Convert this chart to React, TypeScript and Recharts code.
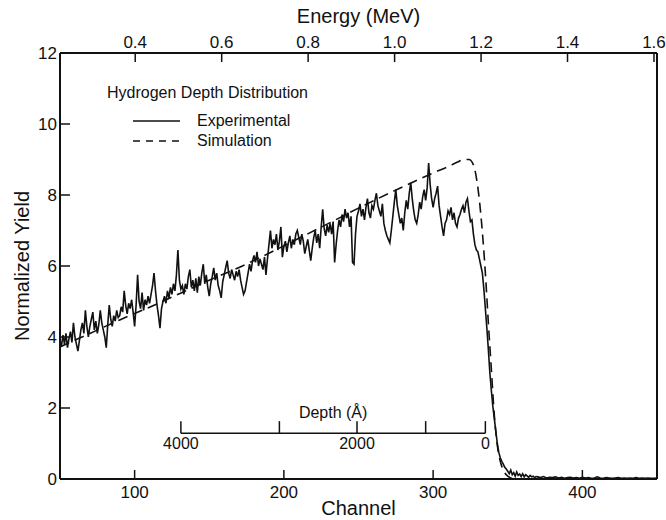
import { LineChart, Line, XAxis, YAxis, ReferenceLine, Legend } from "recharts";

const FONT = '"Liberation Sans", Arial, Helvetica, sans-serif';
const INK = "#111";

// experimental yield, one value per channel
const yieldCh050to149 = [
  3.9, 3.75, 4.05, 3.8, 4.1, 3.7, 3.95, 4.15, 3.85, 4.4,
  4.0, 3.8, 3.6, 3.9, 4.2, 4.4, 4.1, 4.75, 4.3, 4.0,
  4.3, 4.5, 4.7, 4.2, 4.45, 4.1, 4.35, 4.75, 4.4, 4.2,
  4.0, 3.7, 4.35, 4.9, 4.5, 4.3, 4.6, 4.45, 4.75, 4.55,
  4.6, 4.85, 4.7, 5.3, 4.9, 4.65, 4.95, 4.8, 5.05, 4.7,
  4.3, 4.9, 5.75, 5.0, 4.8, 5.25, 4.75, 5.05, 4.9, 5.15,
  4.95, 5.2, 5.45, 5.8, 5.3, 4.9, 4.6, 4.25, 4.8, 5.0,
  5.15, 4.95, 5.3, 5.1, 5.4, 5.2, 5.5, 5.3, 5.75, 6.45,
  5.6, 5.35, 5.45, 5.2, 5.5, 5.35, 5.7, 5.9, 5.4, 5.6,
  5.3, 5.65, 5.25, 5.7, 5.45, 5.8, 6.05, 5.5, 5.75, 5.4,
];
const yieldCh150to249 = [
  5.15, 5.5, 5.7, 5.95, 5.6, 5.8, 5.45, 5.3, 5.1, 5.55,
  5.75, 5.95, 6.15, 5.8, 5.65, 5.9, 5.75, 5.6, 5.85, 5.7,
  5.9, 5.6, 5.4, 5.2, 5.3, 5.55, 5.8, 6.05, 5.85, 6.15,
  6.3, 6.1, 6.4, 6.0, 6.2, 6.05, 5.9, 6.25, 5.75, 6.2,
  6.6, 7.0, 6.5, 6.75, 6.6, 6.9, 6.45, 6.7, 7.1, 6.25,
  6.55, 6.7, 6.4, 6.65, 6.85, 6.5, 6.75, 6.6, 6.9, 7.0,
  6.8, 6.6, 6.9, 6.7, 6.35, 6.55, 6.75, 6.45, 6.15, 6.5,
  6.8, 7.0, 6.65, 6.9, 6.5, 7.1, 7.6, 7.05, 6.85, 7.15,
  6.95, 7.2, 6.9, 7.25, 6.1, 6.6, 7.0, 7.3, 7.1, 7.45,
  7.25, 7.6, 7.35, 7.5, 7.1, 7.4, 6.1, 6.05, 6.9, 7.4,
];
const yieldCh250to349 = [
  7.55, 7.75, 7.4, 7.6, 7.3, 7.65, 7.9, 7.5, 7.35, 7.7,
  7.6, 7.85, 8.05, 7.7, 7.55, 7.4, 7.75, 7.2, 7.0, 6.85,
  6.75, 6.65, 7.0, 7.4, 7.8, 8.15, 7.7, 7.45, 7.2, 7.35,
  7.0, 7.5, 7.85, 7.6, 8.05, 8.35, 7.9, 7.55, 7.3, 7.2,
  7.45, 7.8, 7.6, 7.95, 8.15, 7.85, 8.2, 8.9, 8.3, 7.9,
  7.65, 7.9, 8.05, 8.25, 7.7, 7.4, 7.1, 6.85, 7.2, 7.3,
  7.55, 7.45, 7.65, 7.3, 7.5, 7.2, 7.1, 7.35, 7.45, 7.6,
  7.7, 7.5, 7.8, 7.9, 7.55, 7.25, 7.3, 6.9, 6.6, 6.45,
  6.4, 6.2, 6.0, 5.8, 5.35, 4.8, 4.25, 3.65, 3.0, 2.5,
  2.05, 1.7, 1.35, 1.0, 0.75, 0.6, 0.5, 0.42, 0.33, 0.28,
];
const yieldCh350to369 = [
  0.22, 0.15, 0.25, 0.12, 0.18, 0.08, 0.2, 0.1, 0.14, 0.07,
  0.15, 0.06, 0.12, 0.09, 0.05, 0.1, 0.06, 0.08, 0.04, 0.07,
];
// every second channel, 370..450
const yieldCh370to450 = [
  0.06, 0.04, 0.07, 0.03, 0.05, 0.04, 0.06, 0.03, 0.05, 0.02,
  0.04, 0.05, 0.03, 0.04, 0.02, 0.05, 0.03, 0.04, 0.02, 0.03,
  0.06, 0.03, 0.02, 0.04, 0.03, 0.02, 0.03, 0.04, 0.02, 0.03,
  0.02, 0.03, 0.02, 0.04, 0.02, 0.03, 0.02, 0.03, 0.02, 0.02,
  0.03,
];

const simChannels = [50, 70, 90, 110, 130, 150, 170, 190, 210, 230, 250, 270, 290, 300, 310, 316, 320, 324, 327, 330, 332.5, 335, 337, 339, 341, 343, 345, 347, 350, 355, 450];
const simYield = [3.72, 4.1, 4.48, 4.84, 5.22, 5.6, 5.96, 6.36, 6.78, 7.2, 7.63, 8.04, 8.43, 8.62, 8.8, 8.92, 8.99, 9.0, 8.85, 8.2, 7.2, 5.8, 4.4, 3.1, 1.8, 0.95, 0.5, 0.25, 0.08, 0.0, 0.0];

const channelTicks = [100, 200, 300, 400];
const yieldTicks = [0, 2, 4, 6, 8, 10, 12];
const energyTicks = [0.4, 0.6, 0.8, 1.0, 1.2, 1.4, 1.6];

// depth scale inset (non linear in channel)
const depthValues = [4000, 3000, 2000, 1000, 0];
const depthChannels = [131, 197, 249, 295, 335];
const depthLabels = ["4000", "", "2000", "", "0"];
const DEPTH_Y = 1.29;
const DEPTH_TICK = 0.34;

const toPoints = (start: number, step: number, ys: number[]) => ys.map((y, i) => ({ ch: start + i * step, y }));

const expData = [
  ...toPoints(50, 1, yieldCh050to149),
  ...toPoints(150, 1, yieldCh150to249),
  ...toPoints(250, 1, yieldCh250to349),
  ...toPoints(350, 1, yieldCh350to369),
  ...toPoints(370, 2, yieldCh370to450),
];
const simData = simChannels.map((ch, i) => ({ ch, y: simYield[i] }));
// empty series so the energy axis gets drawn
const energyData = energyTicks.map((e) => ({ e, y: null }));

function LeftTick({ x, y, payload }: any) {
  return (
    <g>
      <line x1={x} y1={y} x2={x + 10} y2={y} stroke={INK} strokeWidth={1.5} />
      <text x={x - 3} y={y + 6} textAnchor="end" fontSize={17} fill={INK}>{payload.value}</text>
    </g>
  );
}

function RightTick({ x, y }: any) {
  return <line x1={x} y1={y} x2={x - 9} y2={y} stroke={INK} strokeWidth={1.5} />;
}

function BottomTick({ x, y, payload }: any) {
  return (
    <g>
      <line x1={x} y1={y} x2={x} y2={y - 9} stroke={INK} strokeWidth={1.5} />
      <text x={x} y={y + 19} textAnchor="middle" fontSize={17} fill={INK}>{payload.value}</text>
    </g>
  );
}

function TopTick({ x, y, payload }: any) {
  return (
    <g>
      <line x1={x} y1={y} x2={x} y2={y + 9} stroke={INK} strokeWidth={1.5} />
      <text x={x} y={y - 5} textAnchor="middle" fontSize={17} fill={INK}>{Number(payload.value).toFixed(1)}</text>
    </g>
  );
}

function LegendBox({ payload }: any) {
  const items = (payload || []).filter((p: any) => p.type !== "none");
  return (
    <svg width={240} height={72} style={{ overflow: "visible" }}>
      <text x={7} y={18} fontSize={16} fill={INK}>Hydrogen Depth Distribution</text>
      {items.map((entry: any, i: number) => (
        <g key={entry.value}>
          <line x1={33} x2={80} y1={41 + i * 20} y2={41 + i * 20} stroke={INK} strokeWidth={1.5}
            strokeDasharray={i === 1 ? "7 6" : undefined} />
          <text x={97} y={46 + i * 20} fontSize={16} fill={INK}>{entry.value}</text>
        </g>
      ))}
    </svg>
  );
}

export default function App() {
  return (
    <div style={{ position: "absolute", left: 0, top: 0, fontFamily: FONT, background: "#fff" }}>
      <LineChart width={666} height={520} margin={{ top: 5, right: 4, bottom: 5, left: 10 }}>
        <XAxis
          xAxisId="ch" dataKey="ch" type="number" domain={[50, 450]} ticks={channelTicks}
          allowDataOverflow interval={0} height={36}
          axisLine={{ stroke: INK, strokeWidth: 2 }} tickLine={false} tickSize={0} tickMargin={0}
          tick={<BottomTick />}
          label={{ value: "Channel", position: "insideBottom", offset: 0, fontSize: 20, fill: INK }}
        />
        <XAxis
          xAxisId="energy" dataKey="e" orientation="top" type="number" domain={[0.226, 1.607]} ticks={energyTicks}
          allowDataOverflow interval={0} height={48}
          axisLine={{ stroke: INK, strokeWidth: 2 }} tickLine={false} tickSize={0} tickMargin={0}
          tick={<TopTick />}
          label={{ value: "Energy (MeV)", position: "insideTop", offset: 4, fontSize: 20, fill: INK }}
        />
        <YAxis
          yAxisId="y" type="number" domain={[0, 12]} ticks={yieldTicks} interval={0} width={50}
          axisLine={{ stroke: INK, strokeWidth: 2 }} tickLine={false} tickSize={0} tickMargin={0}
          tick={<LeftTick />}
          label={{ value: "Normalized Yield", angle: -90, position: "insideLeft", offset: 12, fontSize: 20, fill: INK, textAnchor: "middle" }}
        />
        <YAxis
          yAxisId="r" orientation="right" type="number" domain={[0, 12]} ticks={yieldTicks} interval={0} width={5}
          axisLine={{ stroke: INK, strokeWidth: 2 }} tickLine={false} tickSize={0} tickMargin={0}
          tick={<RightTick />}
        />
        <Legend
          layout="vertical" align="center" verticalAlign="middle"
          wrapperStyle={{ left: 100, top: 80, width: 240 }}
          content={<LegendBox />}
        />
        <Line
          xAxisId="ch" yAxisId="y" data={expData} dataKey="y" name="Experimental" type="linear"
          stroke={INK} strokeWidth={1.6} dot={false} isAnimationActive={false}
        />
        <Line
          xAxisId="ch" yAxisId="y" data={simData} dataKey="y" name="Simulation" type="monotone"
          stroke={INK} strokeWidth={1.6} strokeDasharray="10 6" dot={false} isAnimationActive={false}
        />
        <Line
          xAxisId="energy" yAxisId="r" data={energyData} dataKey="y" legendType="none"
          stroke="none" dot={false} activeDot={false} isAnimationActive={false}
        />
        <ReferenceLine
          xAxisId="ch" yAxisId="y" stroke={INK} strokeWidth={1.5}
          segment={[{ x: depthChannels[0], y: DEPTH_Y }, { x: depthChannels[depthChannels.length - 1], y: DEPTH_Y }]}
          label={{ value: "Depth (Å)", position: "top", offset: 15, fontSize: 16, fill: INK }}
        />
        {depthValues.map((d, i) => (
          <ReferenceLine
            key={d} xAxisId="ch" yAxisId="y" stroke={INK} strokeWidth={1.5}
            segment={[{ x: depthChannels[i], y: DEPTH_Y }, { x: depthChannels[i], y: DEPTH_Y + DEPTH_TICK }]}
            label={depthLabels[i] ? { value: depthLabels[i], position: "bottom", offset: 4, fontSize: 16, fill: INK } : undefined}
          />
        ))}
      </LineChart>
    </div>
  );
}
